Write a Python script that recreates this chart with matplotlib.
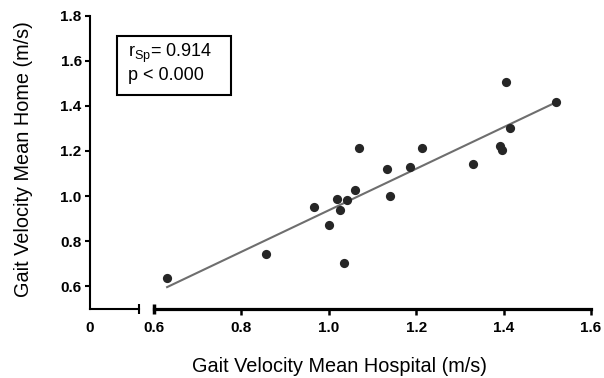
import matplotlib
matplotlib.use("Agg")
import matplotlib.pyplot as plt
from matplotlib.patches import Rectangle

plt.rcParams['font.family'] = ['Liberation Sans', 'DejaVu Sans']
plt.rcParams['mathtext.fontset'] = 'custom'
plt.rcParams['mathtext.rm'] = 'Liberation Sans'
plt.rcParams['mathtext.it'] = 'Liberation Sans'

# data
hospital = [0.630, 0.856, 0.965, 1.000, 1.018, 1.025, 1.042, 1.035, 1.059, 1.070,
            1.133, 1.140, 1.186, 1.213, 1.329, 1.392, 1.397, 1.405, 1.415, 1.520]
home = [0.639, 0.742, 0.952, 0.872, 0.989, 0.937, 0.981, 0.705, 1.025, 1.215,
        1.122, 1.002, 1.128, 1.211, 1.143, 1.222, 1.206, 1.505, 1.302, 1.416]
fit_x = [0.630, 1.515]
fit_y = [0.597, 1.411]
y_ticks = [0.6, 0.8, 1.0, 1.2, 1.4, 1.6, 1.8]
x_ticks = [0.8, 1.0, 1.2, 1.4, 1.6]
x_start = 0.6
stats_text = ["r$_{\\mathrm{Sp}}$= 0.914", "p < 0.000"]

W, H = 604, 378
fig = plt.figure(figsize=(W / 100, H / 100), dpi=100)

def fx(px):
    return px / W

def fy(py):
    return 1 - py / H

top, bottom = 15.5, 309
axL = fig.add_axes([fx(90), fy(bottom), (139 - 90) / W, (bottom - top) / H])
axR = fig.add_axes([fx(154), fy(bottom), (591 - 154) / W, (bottom - top) / H])

tick_font = dict(family='Liberation Sans', weight='bold', size=11)

# left axes (y axis + short x segment)
axL.set_ylim(0.5, 1.8)
axL.set_xlim(0, 1)
for s in ['top', 'right']:
    axL.spines[s].set_visible(False)
axL.spines['left'].set_linewidth(1.5)
axL.spines['bottom'].set_linewidth(1.5)
axL.set_yticks(y_ticks)
axL.set_yticklabels([f"{v:.1f}" for v in y_ticks], fontdict=tick_font)
axL.tick_params(axis='y', direction='out', length=3.5, width=1.5, pad=2.5)
axL.set_xticks([0])
axL.set_xticklabels(["0"], fontdict=tick_font)
axL.tick_params(axis='x', which='major', length=0, pad=8.5)
axL.set_xticks([1], minor=True)
axL.tick_params(axis='x', which='minor', direction='inout', length=6.5, width=1.5)
axL.patch.set_visible(False)

# right axes (data)
axR.set_ylim(0.5, 1.8)
axR.set_xlim(0.6, 1.6)
for s in ['top', 'right', 'left']:
    axR.spines[s].set_visible(False)
axR.spines['bottom'].set_linewidth(2.3)
axR.set_yticks([])
axR.set_xticks(x_ticks)
axR.set_xticklabels([f"{v:.1f}" for v in x_ticks], fontdict=tick_font)
axR.tick_params(axis='x', which='major', direction='out', length=4, width=1.8, pad=4.5)
axR.set_xticks([x_start], minor=True)
axR.set_xticklabels([f"{x_start:.1f}"], minor=True, fontdict=tick_font)
axR.tick_params(axis='x', which='minor', direction='inout', length=7, width=2.5, pad=5)
axR.patch.set_visible(False)

axR.plot(fit_x, fit_y, color='#6e6e6e', lw=1.5, zorder=2, clip_on=False)
axR.scatter(hospital, home, s=44, color='#262626', zorder=3, clip_on=False, linewidths=0)

# stats box
fig.patches.append(Rectangle((fx(117), fy(95)), (231 - 117) / W, (95 - 36) / H,
                             transform=fig.transFigure, fill=False, lw=1.5, ec='black'))
fig.text(fx(127.5), fy(57), stats_text[0], fontsize=13, va='baseline', ha='left')
fig.text(fx(127.5), fy(80.5), stats_text[1], fontsize=13, va='baseline', ha='left')

fig.text(fx(340), fy(372), "Gait Velocity Mean Hospital (m/s)", fontsize=14.3,
         ha='center', va='baseline')
fig.text(fx(23.5), fy(159.5), "Gait Velocity Mean Home (m/s)", fontsize=14.3,
         ha='center', va='center', rotation=90)

fig.savefig("out.png", dpi=100)
